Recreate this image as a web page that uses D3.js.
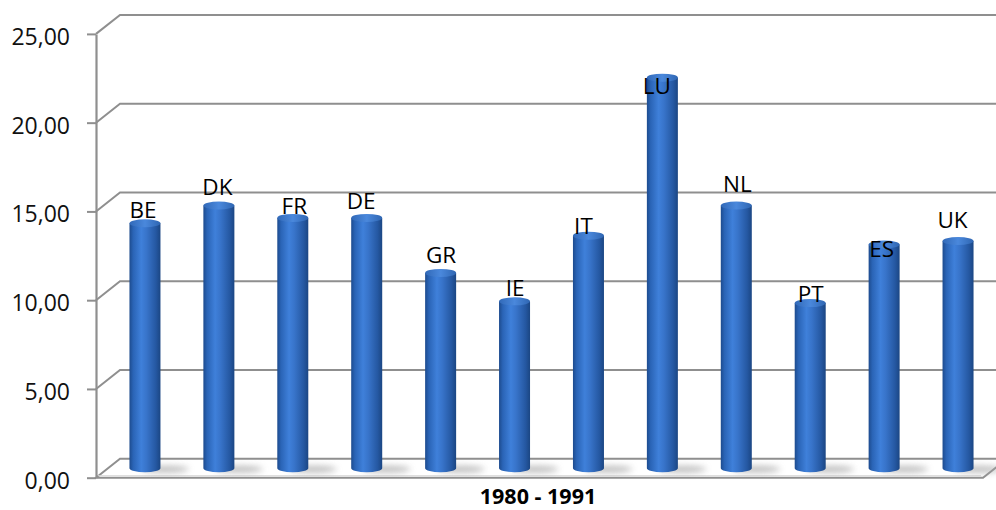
<!DOCTYPE html>
<html>
<head>
<meta charset="utf-8">
<script src="https://cdn.jsdelivr.net/npm/d3@7"></script>
<style>
  html, body { margin: 0; padding: 0; background: #fff; }
  svg { display: block; font-family: "Open Sans", "Noto Sans", sans-serif; }
</style>
</head>
<body>
<svg id="chart" width="996" height="510"></svg>
<script>
// Country codes and their average rates for 1980 - 1991
const categories = ["BE", "DK", "FR", "DE", "GR", "IE", "IT", "LU", "NL", "PT", "ES", "UK"];
const values = [13.8, 14.8, 14.1, 14.1, 11.0, 9.4, 13.1, 22.0, 14.8, 9.3, 12.6, 12.8];
const yTicks = [0, 5, 10, 15, 20, 25];
const axisTitle = "1980 - 1991";

// Label nudges (dx, dy in px) relative to the top of each cylinder
const labelDx = [-2, -1.5, 1.5, -5.5, 0.5, 0.5, -5, -5.5, 1, 0.5, -2.5, -5.5];
const labelDy = [-5, -10, -4, -8.5, -10, -5, -2, 16, -13, -1.5, 12, -12.5];

const svg = d3.select("#chart");

// 3D projection: front plane plus a depth offset
const depth = { dx: 24, dy: -19 };
const front = { left: 96, right: 983, top: 33.9, bottom: 477.7 };

const y = d3.scaleLinear().domain([0, 25]).range([front.bottom, front.top]);
const x = d3.scaleBand().domain(categories).range([front.left, front.right]).padding(0);

const locale = d3.formatLocale({ decimal: ",", thousands: ".", grouping: [3], currency: ["", " €"] });
const fmt = locale.format(".2f");

const defs = svg.append("defs");

// Cylinder body gradient
const bodyGrad = defs.append("linearGradient").attr("id", "cylBody")
  .attr("x1", "0%").attr("x2", "100%").attr("y1", "0%").attr("y2", "0%");
[[0, "#1d4b8e"], [0.12, "#2a64b6"], [0.38, "#3f80da"], [0.55, "#3874ca"], [0.85, "#2558a2"], [1, "#1b4683"]]
  .forEach(([o, c]) => bodyGrad.append("stop").attr("offset", o).attr("stop-color", c));

// Cylinder top gradient
const topGrad = defs.append("linearGradient").attr("id", "cylTop")
  .attr("x1", "0%").attr("x2", "100%").attr("y1", "0%").attr("y2", "0%");
[[0, "#3169b8"], [0.5, "#4a88dc"], [1, "#2f66b2"]]
  .forEach(([o, c]) => topGrad.append("stop").attr("offset", o).attr("stop-color", c));

// Soft shadow filter for the floor
defs.append("filter").attr("id", "blurShadow").attr("x", "-50%").attr("y", "-100%").attr("width", "200%").attr("height", "300%")
  .append("feGaussianBlur").attr("stdDeviation", 3);

const gridColor = "#8f8f8f";

// Back-wall gridlines with their diagonal connectors
const grid = svg.append("g").attr("class", "grid");
yTicks.filter(t => t > 0).forEach(t => {
  const yf = y(t);
  grid.append("path")
    .attr("d", `M${front.left},${yf} L${front.left + depth.dx},${yf + depth.dy} L${front.right + depth.dx},${yf + depth.dy}`)
    .attr("fill", "none").attr("stroke", gridColor).attr("stroke-width", 2);
});

// Floor slab
const floor = svg.append("g").attr("class", "floor");
const fy = y(0);
floor.append("path")
  .attr("d", `M${front.left},${fy} L${front.left + depth.dx},${fy + depth.dy} L${front.right + depth.dx},${fy + depth.dy} L${front.right},${fy} Z`)
  .attr("fill", "#ffffff").attr("stroke", gridColor).attr("stroke-width", 2);
floor.append("line")
  .attr("x1", front.left + 2).attr("x2", front.right - 2)
  .attr("y1", fy - 2).attr("y2", fy - 2)
  .attr("stroke", "#d8d8d8").attr("stroke-width", 1);

// Cylinder geometry
const rx = 15.5, ry = 4;
const mid = { dx: depth.dx / 2, dy: depth.dy / 2 };
const cx = c => x(c) + x.bandwidth() / 2 + mid.dx;
const cy = v => y(v) + mid.dy;

// Shadows cast on the floor
floor.selectAll("ellipse.shadow")
  .data(categories)
  .join("ellipse")
  .attr("class", "shadow")
  .attr("cx", c => cx(c) + 20)
  .attr("cy", cy(0) + 1)
  .attr("rx", 24).attr("ry", 3.5)
  .attr("fill", "#a4a4a4")
  .attr("opacity", 0.7)
  .attr("filter", "url(#blurShadow)");

// Y axis
const axis = svg.append("g")
  .attr("transform", `translate(${front.left},0)`)
  .call(d3.axisLeft(y).tickValues(yTicks).tickFormat(fmt).tickSize(9).tickSizeOuter(0));
axis.select(".domain").attr("stroke", gridColor).attr("stroke-width", 2.2);
axis.selectAll(".tick line").attr("stroke", gridColor).attr("stroke-width", 2);
axis.selectAll(".tick text")
  .attr("x", -26)
  .attr("dy", "0.45em")
  .attr("fill", "#111")
  .style("font-size", "23px")
  .style("font-family", "'Open Sans', sans-serif");

// Cylinders
const bars = svg.append("g").attr("class", "bars")
  .selectAll("g.bar")
  .data(categories.map((c, i) => ({ c, v: values[i], i })))
  .join("g").attr("class", "bar");

bars.append("path")
  .attr("d", d => {
    const x0 = cx(d.c) - rx, x1 = cx(d.c) + rx;
    const yt = cy(d.v), yb = cy(0);
    return `M${x0},${yt} L${x0},${yb} A${rx},${ry} 0 0 0 ${x1},${yb} L${x1},${yt} Z`;
  })
  .attr("fill", "url(#cylBody)");

bars.append("ellipse")
  .attr("cx", d => cx(d.c))
  .attr("cy", d => cy(d.v))
  .attr("rx", rx).attr("ry", ry)
  .attr("fill", "url(#cylTop)");

// Category labels above the cylinders
bars.append("text")
  .attr("x", d => cx(d.c) + labelDx[d.i])
  .attr("y", d => cy(d.v) + labelDy[d.i])
  .attr("text-anchor", "middle")
  .attr("fill", "#000")
  .style("font-size", "22.5px")
  .text(d => d.c);

// Category axis title
svg.append("text")
  .attr("x", 538)
  .attr("y", 504)
  .attr("text-anchor", "middle")
  .attr("fill", "#000")
  .style("font-size", "21.5px")
  .style("font-weight", "bold")
  .text(axisTitle);
</script>
</body>
</html>
